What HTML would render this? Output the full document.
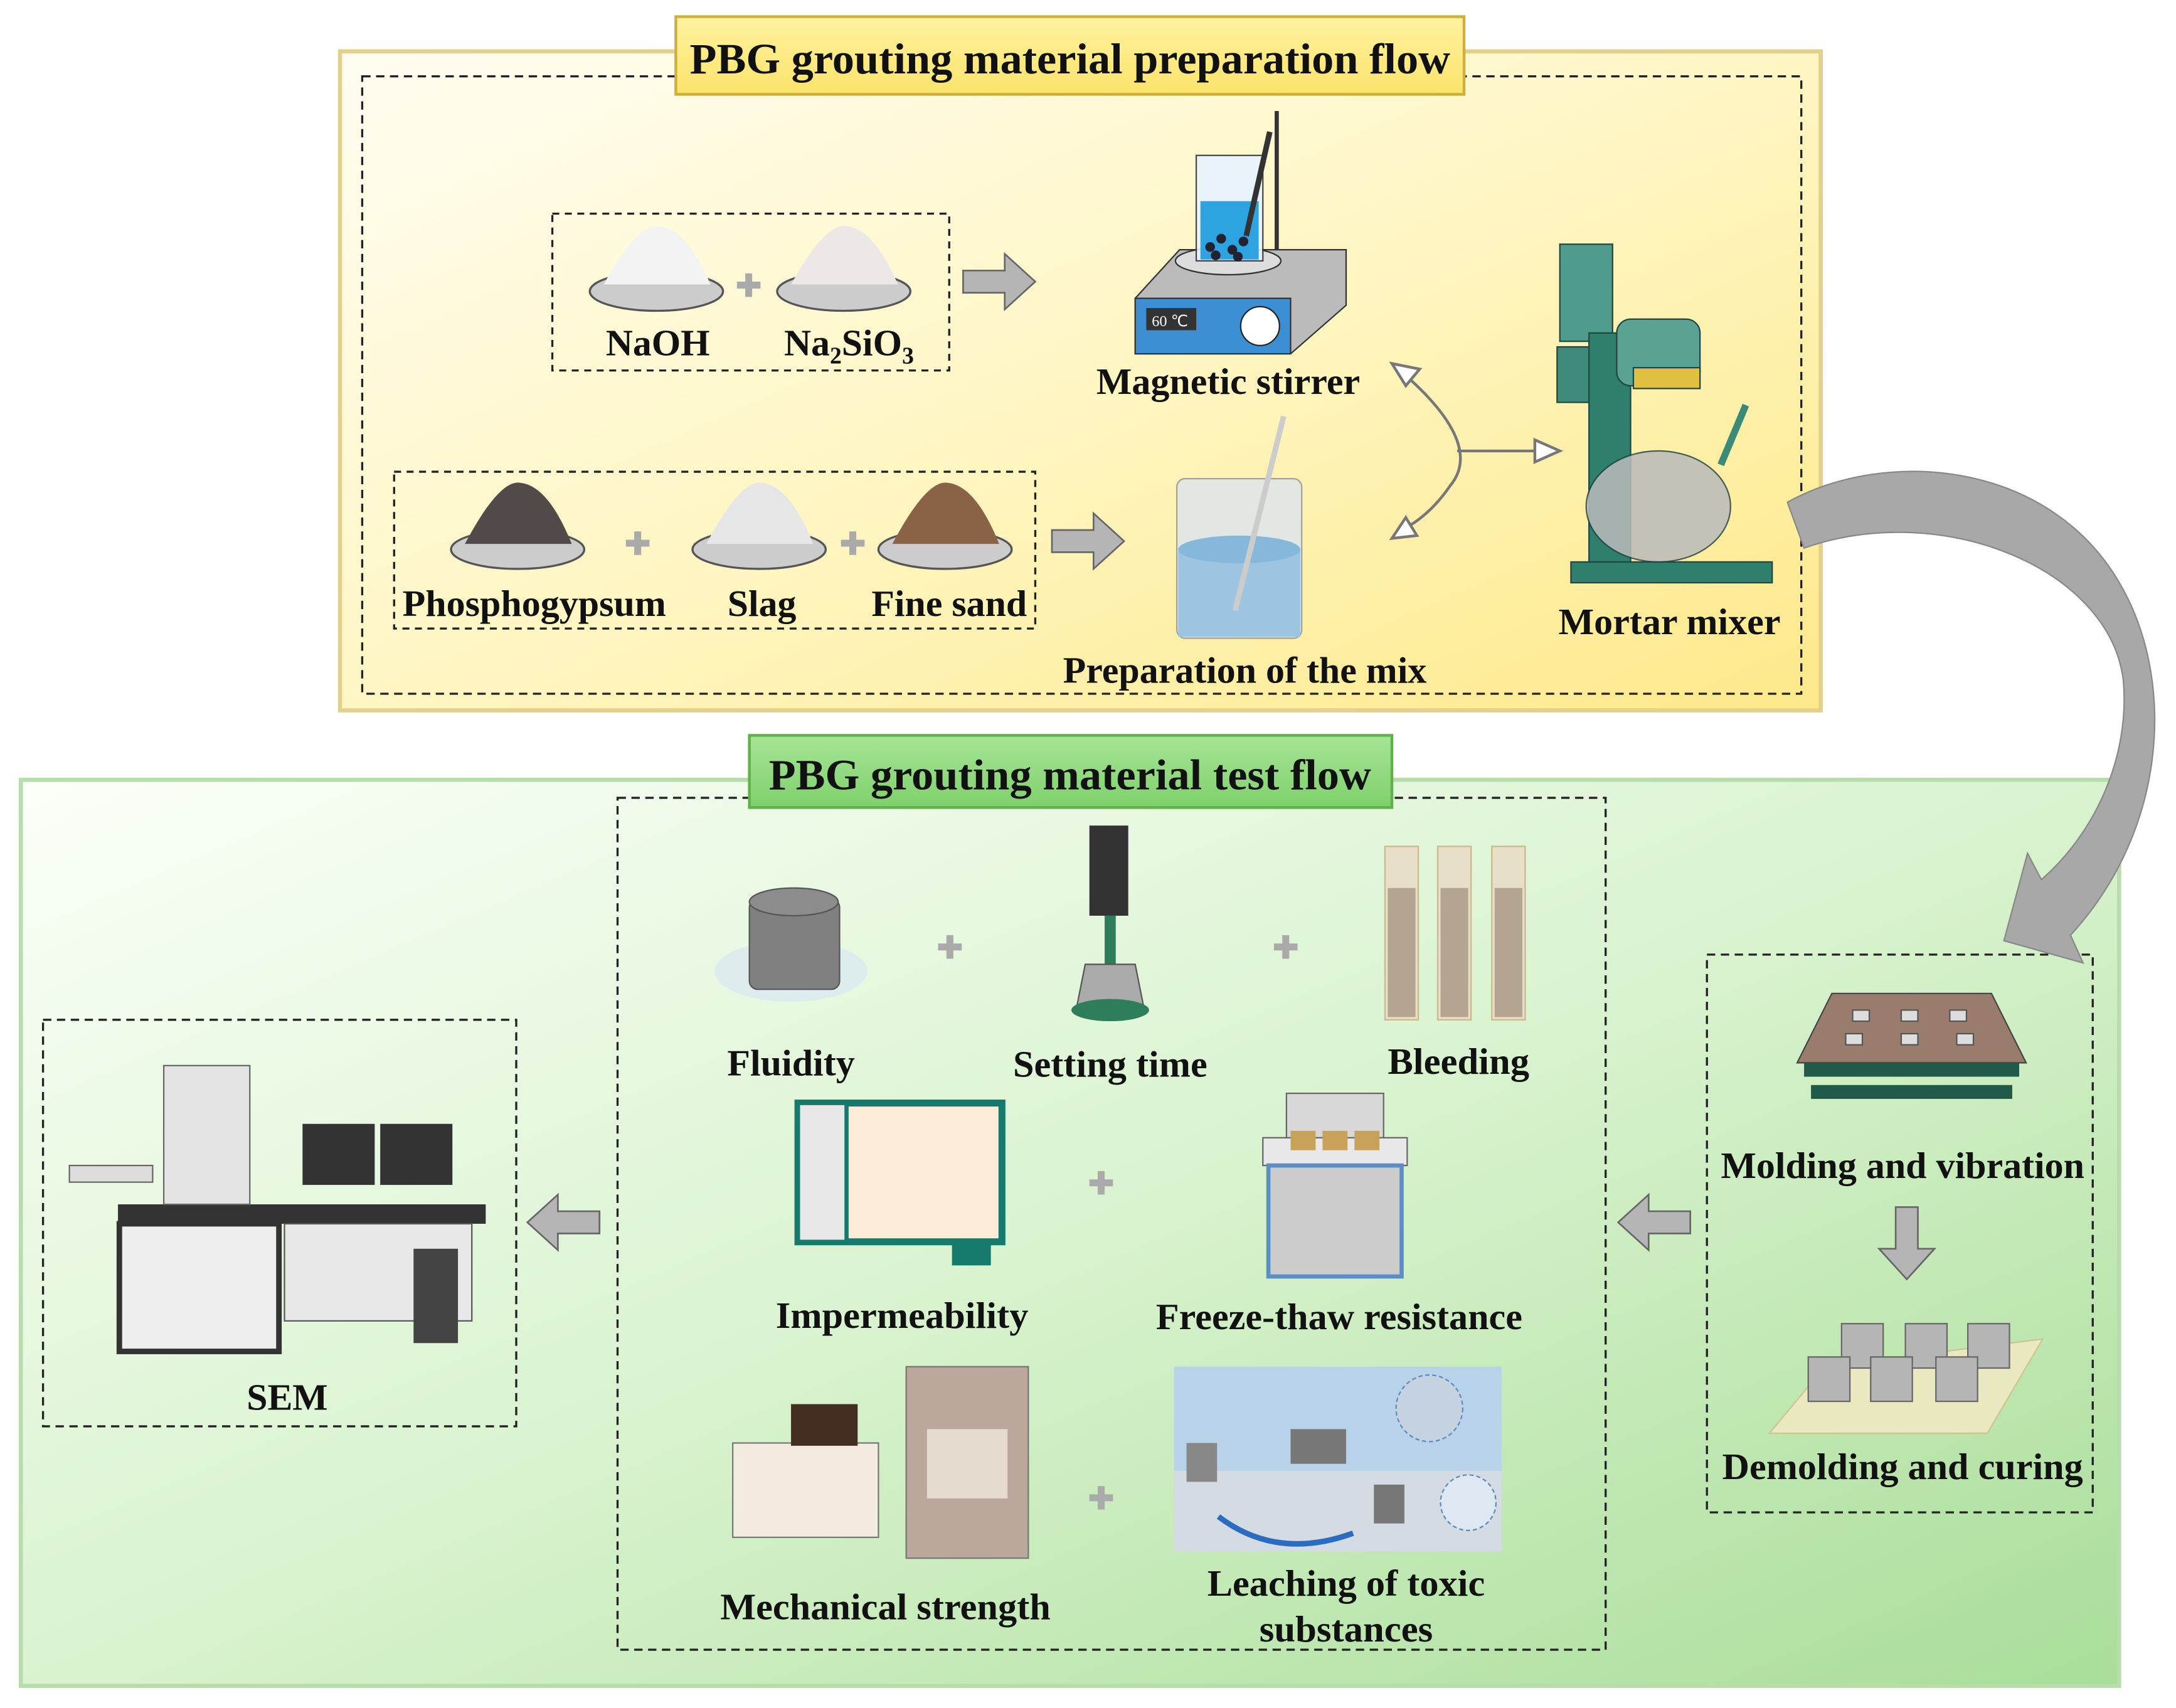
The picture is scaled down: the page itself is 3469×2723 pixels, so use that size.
<!DOCTYPE html>
<html><head><meta charset="utf-8"><style>
html,body{margin:0;padding:0;background:#fff;width:3469px;height:2723px;overflow:hidden}
svg{display:block}
text{font-family:"Liberation Serif",serif;font-weight:bold;fill:#111}
</style></head><body>
<svg width="3469" height="2723" viewBox="0 0 1568 1231" preserveAspectRatio="none" xmlns="http://www.w3.org/2000/svg">
<defs>
<linearGradient id="gy" x1="0" y1="0" x2="1" y2="1"><stop offset="0" stop-color="#fffdf2"/><stop offset="0.5" stop-color="#fff6c4"/><stop offset="1" stop-color="#fde98a"/></linearGradient>
<linearGradient id="gg" x1="0" y1="0" x2="1" y2="1"><stop offset="0" stop-color="#fbfff8"/><stop offset="0.5" stop-color="#d9f3cf"/><stop offset="1" stop-color="#a9dd99"/></linearGradient>
<linearGradient id="ty" x1="0" y1="0" x2="0" y2="1"><stop offset="0" stop-color="#fff3a0"/><stop offset="1" stop-color="#fbe36a"/></linearGradient>
<linearGradient id="tg" x1="0" y1="0" x2="0" y2="1"><stop offset="0" stop-color="#a6e596"/><stop offset="1" stop-color="#7fd06c"/></linearGradient>
</defs>
<rect x="245" y="37" width="1067" height="475" fill="url(#gy)" stroke="#e3d08a" stroke-width="3"/>
<rect x="261" y="55" width="1037" height="445" fill="none" stroke="#222" stroke-width="1.5" stroke-dasharray="6,4"/>
<rect x="487" y="12" width="568" height="56" fill="url(#ty)" stroke="#cfae3c" stroke-width="2"/>
<text x="771" y="53" font-size="31" text-anchor="middle" textLength="548" lengthAdjust="spacingAndGlyphs">PBG grouting material preparation flow</text>
<rect x="15" y="562" width="1512" height="653" fill="url(#gg)" stroke="#b7dcae" stroke-width="3"/>
<rect x="445" y="575" width="712" height="614" fill="none" stroke="#222" stroke-width="1.5" stroke-dasharray="6,4"/>
<rect x="540" y="530" width="463" height="52" fill="url(#tg)" stroke="#5fb24a" stroke-width="2"/>
<text x="771" y="569" font-size="31" text-anchor="middle" textLength="434" lengthAdjust="spacingAndGlyphs">PBG grouting material test flow</text>
<rect x="31" y="735" width="341" height="293" fill="none" stroke="#222" stroke-width="1.5" stroke-dasharray="6,4"/>
<rect x="1230" y="688" width="278" height="402" fill="none" stroke="#222" stroke-width="1.5" stroke-dasharray="6,4"/>
<rect x="398" y="154" width="286" height="113" fill="none" stroke="#222" stroke-width="1.5" stroke-dasharray="5,4"/>
<rect x="284" y="340" width="462" height="113" fill="none" stroke="#222" stroke-width="1.5" stroke-dasharray="5,4"/>
<g stroke="#555" stroke-width="1.5">
<ellipse cx="473" cy="210" rx="48" ry="14" fill="#ccc"/><path d="M435 205 Q460 160 475 163 Q495 165 512 205Z" fill="#f3f3f3" stroke="none"/>
<ellipse cx="608" cy="210" rx="48" ry="14" fill="#ccc"/><path d="M570 205 Q595 160 610 163 Q630 165 647 205Z" fill="#eee7e7" stroke="none"/>
<ellipse cx="373" cy="396" rx="48" ry="14" fill="#ccc"/><path d="M335 392 Q360 345 375 348 Q395 350 412 392Z" fill="#514a48" stroke="none"/>
<ellipse cx="547" cy="396" rx="48" ry="14" fill="#ccc"/><path d="M509 392 Q534 345 549 348 Q569 350 586 392Z" fill="#e6e6e6" stroke="none"/>
<ellipse cx="681" cy="396" rx="48" ry="14" fill="#ccc"/><path d="M643 392 Q668 345 683 348 Q703 350 720 392Z" fill="#8a6245" stroke="none"/>
</g>
<g fill="#aaa"><path d="M531 203h6v-6h5v6h6v5h-6v6h-5v-6h-6z"/><path d="M451 389h6v-6h5v6h6v5h-6v6h-5v-6h-6z"/><path d="M606 389h6v-6h5v6h6v5h-6v6h-5v-6h-6z"/></g>
<text x="474" y="256" font-size="27" text-anchor="middle">NaOH</text>
<text x="565" y="256" font-size="27">Na<tspan font-size="17" dy="6">2</tspan><tspan dy="-6">SiO</tspan><tspan font-size="17" dy="6">3</tspan></text>
<text x="385" y="444" font-size="27" text-anchor="middle" textLength="190" lengthAdjust="spacingAndGlyphs">Phosphogypsum</text>
<text x="549" y="444" font-size="27" text-anchor="middle">Slag</text>
<text x="684" y="444" font-size="27" text-anchor="middle" textLength="112" lengthAdjust="spacingAndGlyphs">Fine sand</text>
<g fill="#b5b5b5" stroke="#666" stroke-width="1.2">
<path d="M694 195h30v-12l22 20-22 20v-12h-30z"/>
<path d="M758 382h30v-12l22 20-22 20v-12h-30z"/>
<path d="M432 873h-30v-12l-22 20 22 20v-12h30z"/>
<path d="M1218 873h-30v-12l-22 20 22 20v-12h30z"/>
<path d="M1366 870h16v30h12l-20 22-20-22h12z"/>
</g>
<path d="M818 215 L850 180 L970 180 L970 220 L930 255 L818 255Z" fill="#bbb" stroke="#333"/>
<rect x="818" y="215" width="112" height="40" fill="#3d8fd4" stroke="#333"/>
<rect x="826" y="222" width="36" height="16" fill="#333"/><text x="830" y="235" font-size="11" style="fill:#fff;font-weight:normal">60 ℃</text>
<circle cx="908" cy="235" r="14" fill="#fff" stroke="#222"/>
<ellipse cx="885" cy="188" rx="38" ry="10" fill="#ddd" stroke="#333"/>
<rect x="862" y="112" width="48" height="76" fill="#e6f3ff" stroke="#333" opacity="0.9"/>
<rect x="865" y="145" width="42" height="42" fill="#2da3e0"/>
<g fill="#223"><circle cx="872" cy="178" r="3.5"/><circle cx="880" cy="172" r="3.5"/><circle cx="888" cy="180" r="3.5"/><circle cx="896" cy="174" r="3.5"/><circle cx="876" cy="184" r="3.5"/><circle cx="892" cy="185" r="3.5"/></g>
<line x1="898" y1="170" x2="915" y2="95" stroke="#333" stroke-width="4"/>
<line x1="920" y1="80" x2="920" y2="180" stroke="#333" stroke-width="3"/>
<text x="885" y="284" font-size="27" text-anchor="middle" textLength="190" lengthAdjust="spacingAndGlyphs">Magnetic stirrer</text>
<rect x="848" y="345" width="90" height="115" rx="6" fill="#e0e6ea" stroke="#999" opacity="0.9"/>
<rect x="849" y="395" width="88" height="64" fill="#9dc4e0"/>
<ellipse cx="893" cy="396" rx="44" ry="10" fill="#86b8dc"/>
<line x1="890" y1="440" x2="925" y2="300" stroke="#ccc" stroke-width="4"/>
<text x="897" y="492" font-size="27" text-anchor="middle" textLength="262" lengthAdjust="spacingAndGlyphs">Preparation of the mix</text>
<path d="M1010 268 Q1070 320 1045 350 Q1030 372 1010 382" fill="none" stroke="#777" stroke-width="2"/>
<path d="M1003 262 l20 4 -10 12z M1003 388 l18 -2 -8 -13z" fill="#fff" stroke="#777" stroke-width="2"/>
<line x1="1050" y1="325" x2="1108" y2="325" stroke="#777" stroke-width="2"/><path d="M1106 317 l18 8 -18 8z" fill="#fff" stroke="#777" stroke-width="2"/>
<g stroke="#244" stroke-width="1">
<rect x="1124" y="176" width="38" height="70" fill="#4f9b8c"/>
<rect x="1122" y="250" width="30" height="40" fill="#3f8a7a"/>
<rect x="1145" y="240" width="30" height="175" fill="#2e7f6b"/>
<rect x="1165" y="230" width="60" height="48" rx="10" fill="#5aa393"/>
<rect x="1177" y="265" width="48" height="15" fill="#e0c040"/>
<path d="M1132 405 h145 v15 h-145z" fill="#2e7f6b"/>
<ellipse cx="1195" cy="365" rx="52" ry="40" fill="#bbb" opacity="0.85"/>
<line x1="1240" y1="335" x2="1258" y2="292" stroke="#3a8a78" stroke-width="5"/>
</g>
<text x="1203" y="457" font-size="27" text-anchor="middle" textLength="160" lengthAdjust="spacingAndGlyphs">Mortar mixer</text>
<path d="M1288 362 C1360 322 1480 332 1530 425 C1568 495 1560 600 1492 674 L1501 694 L1444 678 L1461 615 L1471 634 C1510 600 1535 545 1530 490 C1520 410 1400 360 1300 395 Z" fill="#a8a8a8" stroke="#888"/>
<ellipse cx="570" cy="700" rx="55" ry="22" fill="#dbe9f0" opacity="0.8"/>
<rect x="540" y="648" width="65" height="65" rx="6" fill="#808080" stroke="#555"/><ellipse cx="572" cy="650" rx="32" ry="10" fill="#8c8c8c" stroke="#555"/>
<rect x="785" y="595" width="28" height="65" fill="#333"/><rect x="796" y="660" width="8" height="35" fill="#2e7d5b"/>
<path d="M782 695 h36 l6 30 h-48z" fill="#aaa" stroke="#555"/><ellipse cx="800" cy="728" rx="28" ry="8" fill="#2e7d5b"/>
<g fill="#e8dfc9" stroke="#c9b88c"><rect x="998" y="610" width="24" height="125"/><rect x="1036" y="610" width="24" height="125"/><rect x="1075" y="610" width="24" height="125"/></g>
<g fill="#b4a591"><rect x="1000" y="640" width="20" height="93"/><rect x="1038" y="640" width="20" height="93"/><rect x="1077" y="640" width="20" height="93"/></g>
<g fill="#aaa"><path d="M676 680h6v-6h5v6h6v5h-6v6h-5v-6h-6z"/><path d="M918 680h6v-6h5v6h6v5h-6v6h-5v-6h-6z"/><path d="M785 850h6v-6h5v6h6v5h-6v6h-5v-6h-6z"/><path d="M785 1077h6v-6h5v6h6v5h-6v6h-5v-6h-6z"/></g>
<text x="570" y="775" font-size="27" text-anchor="middle" textLength="92" lengthAdjust="spacingAndGlyphs">Fluidity</text>
<text x="800" y="776" font-size="27" text-anchor="middle" textLength="140" lengthAdjust="spacingAndGlyphs">Setting time</text>
<text x="1051" y="774" font-size="27" text-anchor="middle" textLength="102" lengthAdjust="spacingAndGlyphs">Bleeding</text>
<rect x="575" y="795" width="147" height="100" fill="#fdecd8" stroke="#157a6b" stroke-width="5"/><rect x="575" y="795" width="35" height="100" fill="#e8e8e8" stroke="#157a6b" stroke-width="3"/>
<rect x="686" y="896" width="28" height="16" fill="#157a6b"/>
<rect x="927" y="788" width="70" height="35" fill="#d8d8d8" stroke="#666"/>
<rect x="910" y="820" width="104" height="20" fill="#e8e8e8" stroke="#666"/>
<rect x="914" y="840" width="96" height="80" fill="#ccc" stroke="#5b8ec4" stroke-width="3"/>
<g fill="#c9a25a"><rect x="930" y="815" width="18" height="14"/><rect x="953" y="815" width="18" height="14"/><rect x="976" y="815" width="18" height="14"/></g>
<text x="650" y="957" font-size="27" text-anchor="middle" textLength="182" lengthAdjust="spacingAndGlyphs">Impermeability</text>
<text x="965" y="958" font-size="27" text-anchor="middle" textLength="264" lengthAdjust="spacingAndGlyphs">Freeze-thaw resistance</text>
<rect x="528" y="1040" width="105" height="68" fill="#f3ebe0" stroke="#777"/><rect x="570" y="1012" width="48" height="30" fill="#442d22"/>
<rect x="653" y="985" width="88" height="138" fill="#bca79d" stroke="#777"/><rect x="668" y="1030" width="58" height="50" fill="#e5dccf"/>
<rect x="846" y="985" width="236" height="133" fill="#b8d2ea"/><rect x="846" y="1060" width="236" height="58" fill="#d5dbe2"/>
<path d="M878 1093 Q920 1125 975 1105" fill="none" stroke="#2a6cc0" stroke-width="4"/>
<rect x="930" y="1030" width="40" height="25" fill="#777"/><rect x="855" y="1040" width="22" height="28" fill="#888"/><rect x="990" y="1070" width="22" height="28" fill="#777"/>
<circle cx="1030" cy="1015" r="24" fill="#c5d3e0" stroke="#5a8ac0" stroke-dasharray="3,2"/><circle cx="1058" cy="1083" r="20" fill="#dde8f3" stroke="#5a8ac0" stroke-dasharray="3,2"/>
<text x="638" y="1167" font-size="27" text-anchor="middle" textLength="238" lengthAdjust="spacingAndGlyphs">Mechanical strength</text>
<text x="970" y="1150" font-size="27" text-anchor="middle" textLength="200" lengthAdjust="spacingAndGlyphs">Leaching of toxic</text>
<text x="970" y="1183" font-size="27" text-anchor="middle" textLength="125" lengthAdjust="spacingAndGlyphs">substances</text>
<rect x="85" y="868" width="265" height="14" fill="#333"/>
<rect x="86" y="882" width="115" height="92" fill="#eee" stroke="#333" stroke-width="4"/>
<rect x="205" y="882" width="135" height="70" fill="#e8e8e8" stroke="#555"/>
<rect x="118" y="768" width="62" height="100" fill="#e4e4e4" stroke="#666"/>
<rect x="218" y="810" width="52" height="44" fill="#333"/><rect x="274" y="810" width="52" height="44" fill="#333"/>
<rect x="298" y="900" width="32" height="68" fill="#444"/>
<rect x="50" y="840" width="60" height="12" fill="#ddd" stroke="#666"/>
<text x="207" y="1016" font-size="27" text-anchor="middle">SEM</text>
<path d="M1320 716 h115 l25 50 h-165z" fill="#9a7c6c" stroke="#444"/>
<rect x="1300" y="766" width="155" height="10" fill="#1f5a4a"/><rect x="1305" y="782" width="145" height="10" fill="#1f5a4a"/>
<g fill="#ddd" stroke="#555"><rect x="1335" y="728" width="12" height="8"/><rect x="1370" y="728" width="12" height="8"/><rect x="1405" y="728" width="12" height="8"/><rect x="1330" y="745" width="12" height="8"/><rect x="1370" y="745" width="12" height="8"/><rect x="1410" y="745" width="12" height="8"/></g>
<text x="1371" y="849" font-size="27" text-anchor="middle" textLength="262" lengthAdjust="spacingAndGlyphs">Molding and vibration</text>
<path d="M1275 1033 L1315 985 L1472 965 L1432 1033Z" fill="#eae8c0" stroke="#cbc58e"/>
<g fill="#b5b5b5" stroke="#666"><rect x="1327" y="954" width="30" height="32"/><rect x="1373" y="954" width="30" height="32"/><rect x="1418" y="954" width="30" height="32"/><rect x="1303" y="978" width="30" height="32"/><rect x="1348" y="978" width="30" height="32"/><rect x="1395" y="978" width="30" height="32"/></g>
<text x="1371" y="1066" font-size="27" text-anchor="middle" textLength="260" lengthAdjust="spacingAndGlyphs">Demolding and curing</text>
</svg>
</body></html>
